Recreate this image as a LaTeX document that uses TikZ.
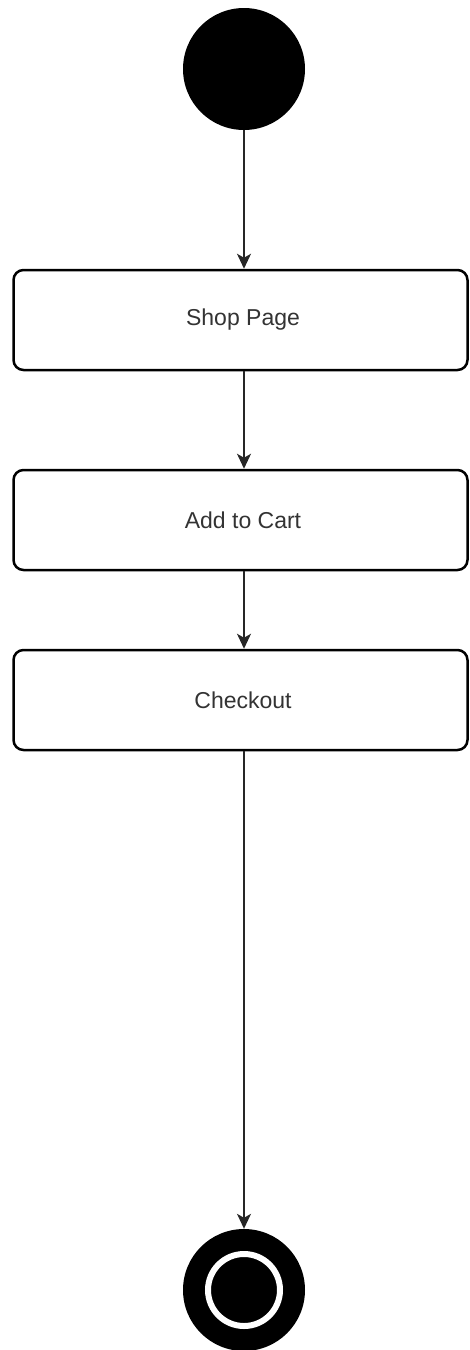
\documentclass[tikz,border=0pt]{standalone}
\usepackage{fontspec}
\setmainfont{Liberation Sans}
\usetikzlibrary{arrows.meta, positioning}

\tikzset{
  activity/.style={rectangle,draw=black,line width=2.5pt,rounded corners=10pt,fill=white,minimum width=454pt,minimum height=100pt,font=\fontsize{23pt}{26pt}\selectfont,text=black!80},
  flow/.style={-{Stealth[length=15pt,width=14pt,inset=4pt]},line width=1.5pt,black!85},
}

\begin{document}
\begin{tikzpicture}[x=1pt,y=-1pt]
    \useasboundingbox (0,0) rectangle (469,1350);

    % Nodo iniziale
    \node[circle,fill=black,minimum size=122pt,inner sep=0pt] (start) at (244,69) {};

    % Attivita
    \node[activity] (shop) at (240.5,320) {\hspace*{5pt}Shop Page};
    \node[activity] (cart) at (240.5,520) {\hspace*{5pt}Add to Cart};
    \node[activity] (checkout) at (240.5,700) {\hspace*{5pt}Checkout};

    % Nodo finale
    \node[circle,fill=black,minimum size=122pt,inner sep=0pt] (final) at (244,1290) {};
    \node[circle,draw=white,fill=black,line width=6pt,minimum size=72pt,inner sep=0pt] (finalin) at (final.center) {};

    % Connessioni
    \draw[flow] (start) -- (start |- shop.north);
    \draw[flow] (start |- shop.south) -- (start |- cart.north);
    \draw[flow] (start |- cart.south) -- (start |- checkout.north);
    \draw[flow] (start |- checkout.south) -- (final);
\end{tikzpicture}
\end{document}
